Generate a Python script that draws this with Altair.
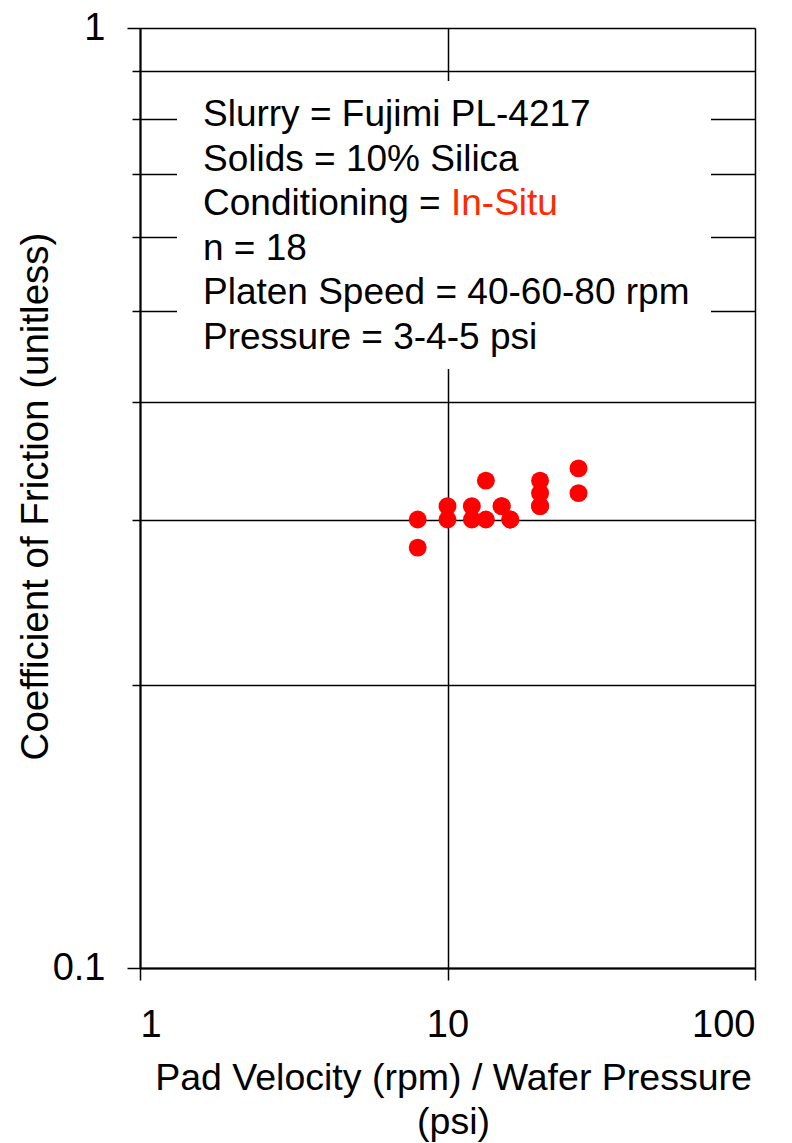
import altair as alt
import pandas as pd

# Data
velocity_over_pressure = [8, 8, 10, 10, 12, 12, 13.33, 13.33, 15, 15, 16, 16,
                          20, 20, 20, 20, 26.67, 26.67]
cof = [0.30, 0.28, 0.31, 0.30, 0.31, 0.30, 0.33, 0.30, 0.31, 0.31, 0.30, 0.30,
       0.33, 0.32, 0.31, 0.31, 0.34, 0.32]

x_ticks = [1, 10, 100]
y_ticks = [0.1, 0.2, 0.3, 0.4, 0.5, 0.6, 0.7, 0.8, 0.9, 1.0]

note_lines = ["Slurry = Fujimi PL-4217", "Solids = 10% Silica", "Conditioning = ",
              "n = 18", "Platen Speed = 40-60-80 rpm", "Pressure = 3-4-5 psi"]
note_red = "In-Situ"

df = pd.DataFrame({"x": velocity_over_pressure, "y": cof})
one = pd.DataFrame({"k": [0]})

FONT = "Liberation Sans"
W, H = 615, 940

x_enc = alt.X("x:Q", scale=alt.Scale(type="log", domain=[1, 100], nice=False),
              axis=alt.Axis(values=x_ticks, grid=True, gridColor="black", gridWidth=1.5,
                            gridOpacity=1, tickSize=12, tickColor="black", tickWidth=1.5,
                            domainColor="black", domainWidth=2,
                            labelExpr="datum.value == 1 ? '1' : datum.value == 10 ? '10' : datum.value == 100 ? '100' : ''",
                            labelFont=FONT, labelFontSize=38, labelColor="black",
                            labelPadding=26, labelBaseline="top",
                            title=["Pad Velocity (rpm) / Wafer Pressure", "(psi)"],
                            titleFont=FONT, titleFontSize=37.5, titleFontWeight="normal",
                            titleColor="black", titleX=313, titleY=121,
                            titleAlign="center", titleBaseline="alphabetic",
                            titleLineHeight=44))
y_enc = alt.Y("y:Q", scale=alt.Scale(type="log", domain=[0.1, 1], nice=False),
              axis=alt.Axis(values=y_ticks, grid=True, gridColor="black", gridWidth=1.5,
                            gridOpacity=1,
                            tickSize={"condition": {"test": "datum.value == 1 || datum.value == 0.1", "value": 13}, "value": 8},
                            tickColor="black", tickWidth=1.5,
                            domainColor="black", domainWidth=2,
                            labelExpr="datum.value == 1 ? '1' : datum.value == 0.1 ? '0.1' : ''",
                            labelFont=FONT, labelFontSize=38, labelColor="black",
                            labelPadding=22,
                            title="Coefficient of Friction (unitless)",
                            titleFont=FONT, titleFontSize=38.5, titleFontWeight="normal",
                            titleColor="black", titleX=-105, titleY=468, titleAngle=-90,
                            titleAlign="center", titleBaseline="middle"))

points = alt.Chart(df).mark_circle(size=320, color="#FF0000", opacity=1).encode(x=x_enc, y=y_enc)

box = alt.Chart(one).mark_rect(color="white", opacity=1).encode(
    x=alt.value(37), x2=alt.value(571), y=alt.value(53), y2=alt.value(341))

notes = alt.Chart(one).mark_text(align="left", baseline="alphabetic", font=FONT,
                                 fontSize=37, lineHeight=44.5, color="black").encode(
    x=alt.value(63), y=alt.value(98), text=alt.value(note_lines))

red = alt.Chart(one).mark_text(align="left", baseline="alphabetic", font=FONT,
                               fontSize=37, color="#FF2A00").encode(
    x=alt.value(311), y=alt.value(187), text=alt.value(note_red))

chart = alt.layer(points, box, notes, red).properties(
    width=W, height=H,
    autosize=alt.AutoSizeParams(type="none"),
    padding={"left": 140, "top": 28, "right": 37, "bottom": 175},
).configure_view(stroke="black", strokeWidth=2).configure(background="white")

chart.save("out.html", embed_options={"renderer": "svg", "actions": False})
